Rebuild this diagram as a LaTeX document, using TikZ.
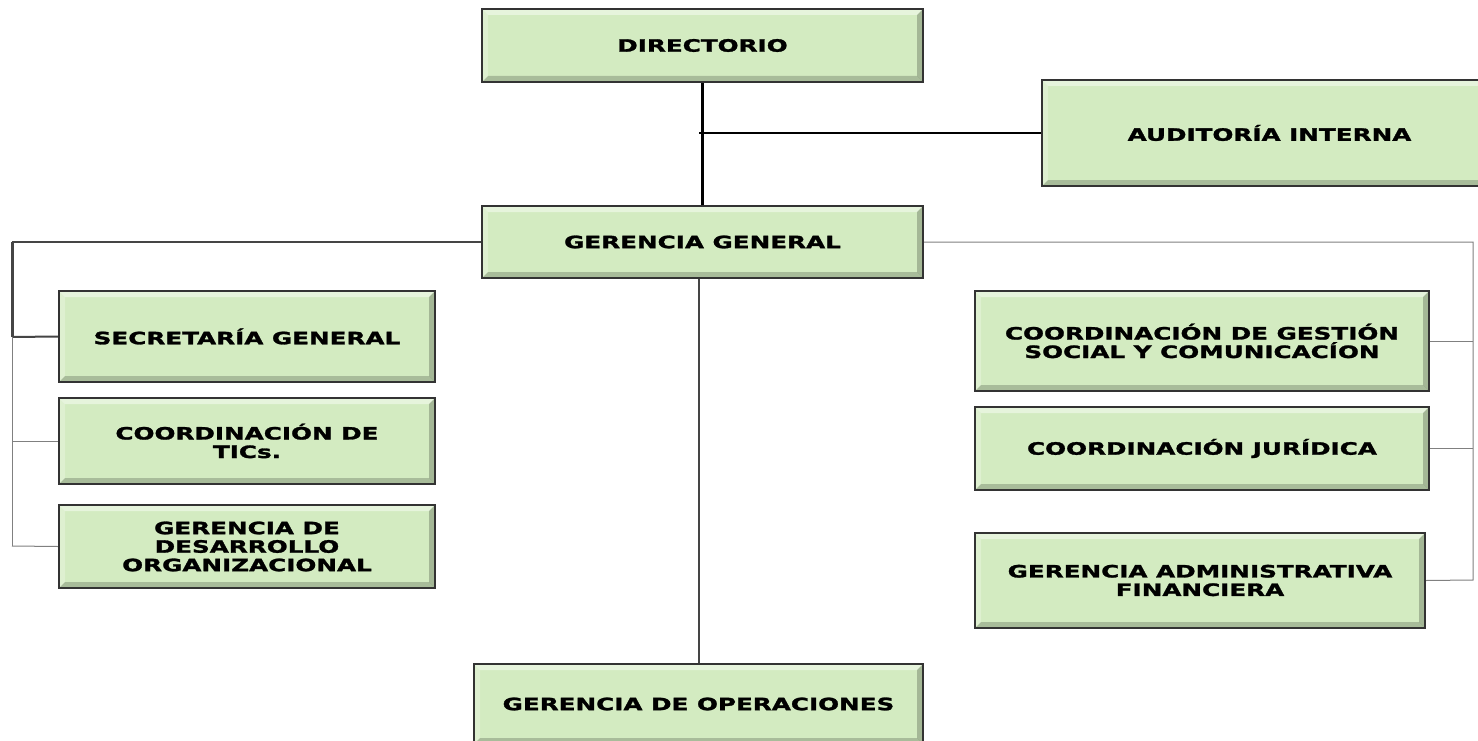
\documentclass[tikz,border=0pt]{standalone}
\usepackage{fontspec}
\newfontfamily\boxfont{DejaVu Sans}[FakeStretch=1.45, FakeBold=1.6]
\definecolor{boxfill}{HTML}{D3EBC1}
\definecolor{boxborder}{HTML}{333333}
\definecolor{lnmid}{HTML}{454545}
\definecolor{lnthin}{HTML}{808080}
\tikzset{
  orgbox/.style={draw=boxborder, line width=2.4pt, fill=boxfill, inner sep=0pt,
    align=center, font=\boxfont\bfseries\fontsize{17}{18.5}\selectfont,
    path picture={
      \fill[white,opacity=.45] (path picture bounding box.north west) -- (path picture bounding box.north east)
        -- ([shift={(-6pt,-6pt)}]path picture bounding box.north east) -- ([shift={(6pt,-6pt)}]path picture bounding box.north west) -- cycle;
      \fill[white,opacity=.25] (path picture bounding box.north west) -- (path picture bounding box.south west)
        -- ([shift={(6pt,6pt)}]path picture bounding box.south west) -- ([shift={(6pt,-6pt)}]path picture bounding box.north west) -- cycle;
      \fill[black,opacity=.22] (path picture bounding box.north east) -- (path picture bounding box.south east)
        -- ([shift={(-6pt,6pt)}]path picture bounding box.south east) -- ([shift={(-6pt,-6pt)}]path picture bounding box.north east) -- cycle;
      \fill[black,opacity=.2] (path picture bounding box.south west) -- (path picture bounding box.south east)
        -- ([shift={(-6pt,6pt)}]path picture bounding box.south east) -- ([shift={(6pt,6pt)}]path picture bounding box.south west) -- cycle;
    }},
  thickln/.style={line width=2.5pt, black},
  audln/.style={line width=1.3pt, black},
  midln/.style={line width=2pt, lnmid},
  thinln/.style={line width=1pt, lnthin}
}
\begin{document}
\begin{tikzpicture}[x=1pt,y=-1pt]
\useasboundingbox (0,0) rectangle (1478,741);
\fill[white] (0,0) rectangle (1478,741);
\clip (0,0) rectangle (1478,741);
% nodes
\node[orgbox, minimum width=441pt, minimum height=73pt] (dir) at (702.5,45.5) {DIRECTORIO};
\node[orgbox, minimum width=441pt, minimum height=72pt] (gg) at (702.5,242) {GERENCIA GENERAL};
\node[orgbox, minimum width=455pt, minimum height=106pt] (aud) at (1269.5,133) {AUDITORÍA INTERNA};
\node[orgbox, minimum width=376pt, minimum height=91pt] (sec) at (247,336.5) {SECRETARÍA GENERAL};
\node[orgbox, minimum width=376pt, minimum height=86pt] (tic) at (247,441) {COORDINACIÓN DE\\TICs.};
\node[orgbox, minimum width=376pt, minimum height=83pt] (des) at (247,546.5) {GERENCIA DE\\DESARROLLO\\ORGANIZACIONAL};
\node[orgbox, minimum width=454pt, minimum height=100pt] (cgs) at (1202,341) {COORDINACIÓN DE GESTIÓN\\SOCIAL Y COMUNICACÍON};
\node[orgbox, minimum width=454pt, minimum height=83pt] (jur) at (1202,448.5) {COORDINACIÓN JURÍDICA};
\node[orgbox, minimum width=450pt, minimum height=95pt] (adm) at (1200,580.5) {GERENCIA ADMINISTRATIVA\\FINANCIERA};
\node[orgbox, minimum width=449pt, minimum height=80pt] (ope) at (698.5,704) {GERENCIA DE OPERACIONES};
% helper coordinates
\coordinate (audj) at (699,133);
\coordinate (lt) at (12,242);
\coordinate (lsec) at (12,337);
\coordinate (ldes) at (12,546);
\coordinate (rt) at (1473,242);
\coordinate (radm) at (1473,580);
% connectors
\draw[thickln] (dir.south) -- (gg.north);
\draw[audln] (audj) -- (audj -| aud.west);
\draw[midln] (gg.west) -- (lt);
\draw[line width=3pt, lnmid] (lt) -- (lsec);
\draw[midln] (lsec) -- (sec.west);
\draw[thinln] (lsec) -- (ldes);
\draw[thinln] (ldes |- tic.west) -- (tic.west);
\draw[thinln] (ldes) -- (des.west);
\draw[thinln] (gg.east) -- (rt) -- (radm) -- (adm.east);
\draw[thinln] (rt |- cgs.east) -- (cgs.east);
\draw[thinln] (rt |- jur.east) -- (jur.east);
\draw[midln] (gg.south -| ope.north) -- (ope.north);
\end{tikzpicture}
\end{document}
